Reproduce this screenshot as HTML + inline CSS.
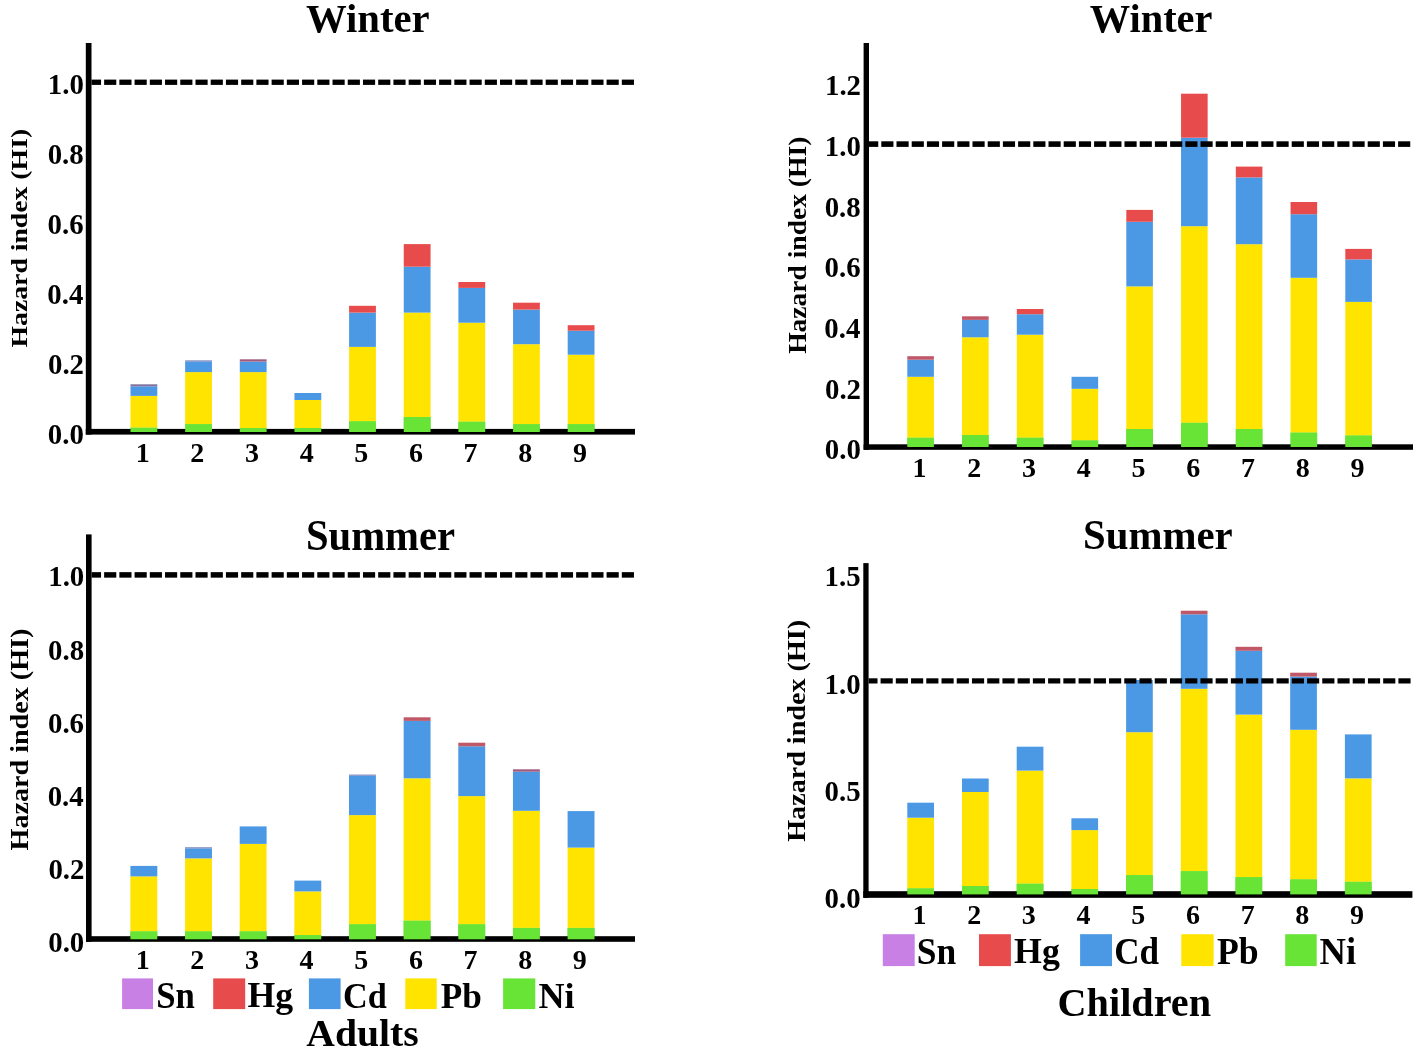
<!DOCTYPE html>
<html><head><meta charset="utf-8"><style>
html,body{margin:0;padding:0;background:#fff;}
svg{display:block;will-change:transform;}
text{font-family:"Liberation Serif", serif;font-weight:bold;fill:#000;}
</style></head><body>
<svg width="1424" height="1053" viewBox="0 0 1424 1053">
<rect width="1424" height="1053" fill="#fff"/>
<rect x="130.50" y="427.70" width="26.80" height="4.30" fill="#68E436"/>
<rect x="130.50" y="395.90" width="26.80" height="31.80" fill="#FFE400"/>
<rect x="130.50" y="386.30" width="26.80" height="9.60" fill="#4B98E4"/>
<rect x="130.50" y="384.30" width="26.80" height="2.00" fill="#84709E"/>
<rect x="185.15" y="424.20" width="26.80" height="7.80" fill="#68E436"/>
<rect x="185.15" y="372.10" width="26.80" height="52.10" fill="#FFE400"/>
<rect x="185.15" y="361.60" width="26.80" height="10.50" fill="#4B98E4"/>
<rect x="185.15" y="360.40" width="26.80" height="1.20" fill="#7280B8"/>
<rect x="239.80" y="428.00" width="26.80" height="4.00" fill="#68E436"/>
<rect x="239.80" y="372.10" width="26.80" height="55.90" fill="#FFE400"/>
<rect x="239.80" y="361.60" width="26.80" height="10.50" fill="#4B98E4"/>
<rect x="239.80" y="359.30" width="26.80" height="2.30" fill="#A25C80"/>
<rect x="294.45" y="428.00" width="26.80" height="4.00" fill="#68E436"/>
<rect x="294.45" y="400.00" width="26.80" height="28.00" fill="#FFE400"/>
<rect x="294.45" y="393.00" width="26.80" height="7.00" fill="#4B98E4"/>
<rect x="349.10" y="421.30" width="26.80" height="10.70" fill="#68E436"/>
<rect x="349.10" y="346.90" width="26.80" height="74.40" fill="#FFE400"/>
<rect x="349.10" y="312.60" width="26.80" height="34.30" fill="#4B98E4"/>
<rect x="349.10" y="305.80" width="26.80" height="6.80" fill="#E84B4B"/>
<rect x="403.75" y="417.10" width="26.80" height="14.90" fill="#68E436"/>
<rect x="403.75" y="312.60" width="26.80" height="104.50" fill="#FFE400"/>
<rect x="403.75" y="266.70" width="26.80" height="45.90" fill="#4B98E4"/>
<rect x="403.75" y="244.10" width="26.80" height="22.60" fill="#E84B4B"/>
<rect x="458.40" y="421.70" width="26.80" height="10.30" fill="#68E436"/>
<rect x="458.40" y="322.70" width="26.80" height="99.00" fill="#FFE400"/>
<rect x="458.40" y="287.90" width="26.80" height="34.80" fill="#4B98E4"/>
<rect x="458.40" y="282.00" width="26.80" height="5.90" fill="#E84B4B"/>
<rect x="513.05" y="424.20" width="26.80" height="7.80" fill="#68E436"/>
<rect x="513.05" y="344.20" width="26.80" height="80.00" fill="#FFE400"/>
<rect x="513.05" y="309.60" width="26.80" height="34.60" fill="#4B98E4"/>
<rect x="513.05" y="302.70" width="26.80" height="6.90" fill="#E84B4B"/>
<rect x="567.70" y="424.20" width="26.80" height="7.80" fill="#68E436"/>
<rect x="567.70" y="354.70" width="26.80" height="69.50" fill="#FFE400"/>
<rect x="567.70" y="330.70" width="26.80" height="24.00" fill="#4B98E4"/>
<rect x="567.70" y="325.20" width="26.80" height="5.50" fill="#E84B4B"/>
<rect x="85.80" y="43.00" width="5.70" height="391.60" fill="#000"/>
<rect x="85.80" y="428.90" width="549.20" height="5.70" fill="#000"/>
<rect x="130.50" y="427.70" width="26.80" height="4.30" fill="#68E436"/>
<rect x="185.15" y="424.20" width="26.80" height="7.80" fill="#68E436"/>
<rect x="239.80" y="428.00" width="26.80" height="4.00" fill="#68E436"/>
<rect x="294.45" y="428.00" width="26.80" height="4.00" fill="#68E436"/>
<rect x="349.10" y="421.30" width="26.80" height="10.70" fill="#68E436"/>
<rect x="403.75" y="417.10" width="26.80" height="14.90" fill="#68E436"/>
<rect x="458.40" y="421.70" width="26.80" height="10.30" fill="#68E436"/>
<rect x="513.05" y="424.20" width="26.80" height="7.80" fill="#68E436"/>
<rect x="567.70" y="424.20" width="26.80" height="7.80" fill="#68E436"/>
<rect x="91.50" y="79.60" width="9.55" height="5.30" fill="#000"/>
<rect x="104.13" y="79.60" width="12.15" height="5.30" fill="#000"/>
<rect x="119.35" y="79.60" width="12.15" height="5.30" fill="#000"/>
<rect x="134.58" y="79.60" width="12.15" height="5.30" fill="#000"/>
<rect x="149.80" y="79.60" width="12.15" height="5.30" fill="#000"/>
<rect x="165.03" y="79.60" width="12.15" height="5.30" fill="#000"/>
<rect x="180.26" y="79.60" width="12.15" height="5.30" fill="#000"/>
<rect x="195.48" y="79.60" width="12.15" height="5.30" fill="#000"/>
<rect x="210.71" y="79.60" width="12.15" height="5.30" fill="#000"/>
<rect x="225.93" y="79.60" width="12.15" height="5.30" fill="#000"/>
<rect x="241.16" y="79.60" width="12.15" height="5.30" fill="#000"/>
<rect x="256.39" y="79.60" width="12.15" height="5.30" fill="#000"/>
<rect x="271.61" y="79.60" width="12.15" height="5.30" fill="#000"/>
<rect x="286.84" y="79.60" width="12.15" height="5.30" fill="#000"/>
<rect x="302.06" y="79.60" width="12.15" height="5.30" fill="#000"/>
<rect x="317.29" y="79.60" width="12.15" height="5.30" fill="#000"/>
<rect x="332.52" y="79.60" width="12.15" height="5.30" fill="#000"/>
<rect x="347.74" y="79.60" width="12.15" height="5.30" fill="#000"/>
<rect x="362.97" y="79.60" width="12.15" height="5.30" fill="#000"/>
<rect x="378.19" y="79.60" width="12.15" height="5.30" fill="#000"/>
<rect x="393.42" y="79.60" width="12.15" height="5.30" fill="#000"/>
<rect x="408.65" y="79.60" width="12.15" height="5.30" fill="#000"/>
<rect x="423.87" y="79.60" width="12.15" height="5.30" fill="#000"/>
<rect x="439.10" y="79.60" width="12.15" height="5.30" fill="#000"/>
<rect x="454.32" y="79.60" width="12.15" height="5.30" fill="#000"/>
<rect x="469.55" y="79.60" width="12.15" height="5.30" fill="#000"/>
<rect x="484.78" y="79.60" width="12.15" height="5.30" fill="#000"/>
<rect x="500.00" y="79.60" width="12.15" height="5.30" fill="#000"/>
<rect x="515.23" y="79.60" width="12.15" height="5.30" fill="#000"/>
<rect x="530.45" y="79.60" width="12.15" height="5.30" fill="#000"/>
<rect x="545.68" y="79.60" width="12.15" height="5.30" fill="#000"/>
<rect x="560.91" y="79.60" width="12.15" height="5.30" fill="#000"/>
<rect x="576.13" y="79.60" width="12.15" height="5.30" fill="#000"/>
<rect x="591.36" y="79.60" width="12.15" height="5.30" fill="#000"/>
<rect x="606.58" y="79.60" width="12.15" height="5.30" fill="#000"/>
<rect x="621.81" y="79.60" width="12.15" height="5.30" fill="#000"/>
<text transform="translate(47.85,443.88) scale(1.030,1.040)" font-size="28.00">0.0</text>
<text transform="translate(47.99,373.90) scale(1.030,1.040)" font-size="28.00">0.2</text>
<text transform="translate(47.30,303.92) scale(1.030,1.040)" font-size="28.00">0.4</text>
<text transform="translate(47.59,233.94) scale(1.030,1.040)" font-size="28.00">0.6</text>
<text transform="translate(47.70,163.96) scale(1.030,1.040)" font-size="28.00">0.8</text>
<text transform="translate(47.85,93.98) scale(1.030,1.040)" font-size="28.00">1.0</text>
<text x="142.70" y="462.00" font-size="28" text-anchor="middle">1</text>
<text x="197.35" y="462.00" font-size="28" text-anchor="middle">2</text>
<text x="252.00" y="462.00" font-size="28" text-anchor="middle">3</text>
<text x="306.65" y="462.00" font-size="28" text-anchor="middle">4</text>
<text x="361.30" y="462.00" font-size="28" text-anchor="middle">5</text>
<text x="415.95" y="462.00" font-size="28" text-anchor="middle">6</text>
<text x="470.60" y="462.00" font-size="28" text-anchor="middle">7</text>
<text x="525.25" y="462.00" font-size="28" text-anchor="middle">8</text>
<text x="579.90" y="462.00" font-size="28" text-anchor="middle">9</text>
<rect x="907.30" y="437.70" width="26.60" height="9.30" fill="#68E436"/>
<rect x="907.30" y="376.80" width="26.60" height="60.90" fill="#FFE400"/>
<rect x="907.30" y="359.70" width="26.60" height="17.10" fill="#4B98E4"/>
<rect x="907.30" y="356.20" width="26.60" height="3.50" fill="#C05868"/>
<rect x="962.05" y="435.00" width="26.60" height="12.00" fill="#68E436"/>
<rect x="962.05" y="337.30" width="26.60" height="97.70" fill="#FFE400"/>
<rect x="962.05" y="319.90" width="26.60" height="17.40" fill="#4B98E4"/>
<rect x="962.05" y="316.30" width="26.60" height="3.60" fill="#C05868"/>
<rect x="1016.80" y="437.70" width="26.60" height="9.30" fill="#68E436"/>
<rect x="1016.80" y="334.70" width="26.60" height="103.00" fill="#FFE400"/>
<rect x="1016.80" y="314.20" width="26.60" height="20.50" fill="#4B98E4"/>
<rect x="1016.80" y="309.00" width="26.60" height="5.20" fill="#E84B4B"/>
<rect x="1071.55" y="440.40" width="26.60" height="6.60" fill="#68E436"/>
<rect x="1071.55" y="388.80" width="26.60" height="51.60" fill="#FFE400"/>
<rect x="1071.55" y="376.80" width="26.60" height="12.00" fill="#4B98E4"/>
<rect x="1126.30" y="429.00" width="26.60" height="18.00" fill="#68E436"/>
<rect x="1126.30" y="286.40" width="26.60" height="142.60" fill="#FFE400"/>
<rect x="1126.30" y="221.80" width="26.60" height="64.60" fill="#4B98E4"/>
<rect x="1126.30" y="209.90" width="26.60" height="11.90" fill="#E84B4B"/>
<rect x="1181.05" y="422.80" width="26.60" height="24.20" fill="#68E436"/>
<rect x="1181.05" y="226.20" width="26.60" height="196.60" fill="#FFE400"/>
<rect x="1181.05" y="137.70" width="26.60" height="88.50" fill="#4B98E4"/>
<rect x="1181.05" y="93.70" width="26.60" height="44.00" fill="#E84B4B"/>
<rect x="1235.80" y="429.00" width="26.60" height="18.00" fill="#68E436"/>
<rect x="1235.80" y="244.20" width="26.60" height="184.80" fill="#FFE400"/>
<rect x="1235.80" y="177.40" width="26.60" height="66.80" fill="#4B98E4"/>
<rect x="1235.80" y="166.60" width="26.60" height="10.80" fill="#E84B4B"/>
<rect x="1290.55" y="432.60" width="26.60" height="14.40" fill="#68E436"/>
<rect x="1290.55" y="277.80" width="26.60" height="154.80" fill="#FFE400"/>
<rect x="1290.55" y="214.20" width="26.60" height="63.60" fill="#4B98E4"/>
<rect x="1290.55" y="202.00" width="26.60" height="12.20" fill="#E84B4B"/>
<rect x="1345.30" y="435.50" width="26.60" height="11.50" fill="#68E436"/>
<rect x="1345.30" y="301.90" width="26.60" height="133.60" fill="#FFE400"/>
<rect x="1345.30" y="259.40" width="26.60" height="42.50" fill="#4B98E4"/>
<rect x="1345.30" y="248.90" width="26.60" height="10.50" fill="#E84B4B"/>
<rect x="863.60" y="43.00" width="5.40" height="406.80" fill="#000"/>
<rect x="863.60" y="444.30" width="549.40" height="5.50" fill="#000"/>
<rect x="907.30" y="437.70" width="26.60" height="9.30" fill="#68E436"/>
<rect x="962.05" y="435.00" width="26.60" height="12.00" fill="#68E436"/>
<rect x="1016.80" y="437.70" width="26.60" height="9.30" fill="#68E436"/>
<rect x="1071.55" y="440.40" width="26.60" height="6.60" fill="#68E436"/>
<rect x="1126.30" y="429.00" width="26.60" height="18.00" fill="#68E436"/>
<rect x="1181.05" y="422.80" width="26.60" height="24.20" fill="#68E436"/>
<rect x="1235.80" y="429.00" width="26.60" height="18.00" fill="#68E436"/>
<rect x="1290.55" y="432.60" width="26.60" height="14.40" fill="#68E436"/>
<rect x="1345.30" y="435.50" width="26.60" height="11.50" fill="#68E436"/>
<rect x="869.00" y="141.30" width="9.25" height="5.60" fill="#000"/>
<rect x="881.30" y="141.30" width="12.15" height="5.60" fill="#000"/>
<rect x="896.50" y="141.30" width="12.15" height="5.60" fill="#000"/>
<rect x="911.70" y="141.30" width="12.15" height="5.60" fill="#000"/>
<rect x="926.90" y="141.30" width="12.15" height="5.60" fill="#000"/>
<rect x="942.10" y="141.30" width="12.15" height="5.60" fill="#000"/>
<rect x="957.30" y="141.30" width="12.15" height="5.60" fill="#000"/>
<rect x="972.50" y="141.30" width="12.15" height="5.60" fill="#000"/>
<rect x="987.70" y="141.30" width="12.15" height="5.60" fill="#000"/>
<rect x="1002.90" y="141.30" width="12.15" height="5.60" fill="#000"/>
<rect x="1018.10" y="141.30" width="12.15" height="5.60" fill="#000"/>
<rect x="1033.30" y="141.30" width="12.15" height="5.60" fill="#000"/>
<rect x="1048.50" y="141.30" width="12.15" height="5.60" fill="#000"/>
<rect x="1063.70" y="141.30" width="12.15" height="5.60" fill="#000"/>
<rect x="1078.90" y="141.30" width="12.15" height="5.60" fill="#000"/>
<rect x="1094.10" y="141.30" width="12.15" height="5.60" fill="#000"/>
<rect x="1109.30" y="141.30" width="12.15" height="5.60" fill="#000"/>
<rect x="1124.50" y="141.30" width="12.15" height="5.60" fill="#000"/>
<rect x="1139.70" y="141.30" width="12.15" height="5.60" fill="#000"/>
<rect x="1154.90" y="141.30" width="12.15" height="5.60" fill="#000"/>
<rect x="1170.10" y="141.30" width="12.15" height="5.60" fill="#000"/>
<rect x="1185.30" y="141.30" width="12.15" height="5.60" fill="#000"/>
<rect x="1200.50" y="141.30" width="12.15" height="5.60" fill="#000"/>
<rect x="1215.70" y="141.30" width="12.15" height="5.60" fill="#000"/>
<rect x="1230.90" y="141.30" width="12.15" height="5.60" fill="#000"/>
<rect x="1246.10" y="141.30" width="12.15" height="5.60" fill="#000"/>
<rect x="1261.30" y="141.30" width="12.15" height="5.60" fill="#000"/>
<rect x="1276.50" y="141.30" width="12.15" height="5.60" fill="#000"/>
<rect x="1291.70" y="141.30" width="12.15" height="5.60" fill="#000"/>
<rect x="1306.90" y="141.30" width="12.15" height="5.60" fill="#000"/>
<rect x="1322.10" y="141.30" width="12.15" height="5.60" fill="#000"/>
<rect x="1337.30" y="141.30" width="12.15" height="5.60" fill="#000"/>
<rect x="1352.50" y="141.30" width="12.15" height="5.60" fill="#000"/>
<rect x="1367.70" y="141.30" width="12.15" height="5.60" fill="#000"/>
<rect x="1382.90" y="141.30" width="12.15" height="5.60" fill="#000"/>
<rect x="1398.10" y="141.30" width="12.15" height="5.60" fill="#000"/>
<text transform="translate(824.85,459.28) scale(1.030,1.040)" font-size="28.00">0.0</text>
<text transform="translate(824.99,398.65) scale(1.030,1.040)" font-size="28.00">0.2</text>
<text transform="translate(824.30,338.01) scale(1.030,1.040)" font-size="28.00">0.4</text>
<text transform="translate(824.59,277.38) scale(1.030,1.040)" font-size="28.00">0.6</text>
<text transform="translate(824.70,216.75) scale(1.030,1.040)" font-size="28.00">0.8</text>
<text transform="translate(824.85,156.11) scale(1.030,1.040)" font-size="28.00">1.0</text>
<text transform="translate(824.99,95.43) scale(1.030,1.040)" font-size="28.00">1.2</text>
<text x="919.40" y="477.40" font-size="28" text-anchor="middle">1</text>
<text x="974.15" y="477.40" font-size="28" text-anchor="middle">2</text>
<text x="1028.90" y="477.40" font-size="28" text-anchor="middle">3</text>
<text x="1083.65" y="477.40" font-size="28" text-anchor="middle">4</text>
<text x="1138.40" y="477.40" font-size="28" text-anchor="middle">5</text>
<text x="1193.15" y="477.40" font-size="28" text-anchor="middle">6</text>
<text x="1247.90" y="477.40" font-size="28" text-anchor="middle">7</text>
<text x="1302.65" y="477.40" font-size="28" text-anchor="middle">8</text>
<text x="1357.40" y="477.40" font-size="28" text-anchor="middle">9</text>
<rect x="130.40" y="931.40" width="26.90" height="7.90" fill="#68E436"/>
<rect x="130.40" y="876.40" width="26.90" height="55.00" fill="#FFE400"/>
<rect x="130.40" y="865.90" width="26.90" height="10.50" fill="#4B98E4"/>
<rect x="185.05" y="931.40" width="26.90" height="7.90" fill="#68E436"/>
<rect x="185.05" y="858.40" width="26.90" height="73.00" fill="#FFE400"/>
<rect x="185.05" y="848.40" width="26.90" height="10.00" fill="#4B98E4"/>
<rect x="185.05" y="847.30" width="26.90" height="1.10" fill="#7280B8"/>
<rect x="239.70" y="931.40" width="26.90" height="7.90" fill="#68E436"/>
<rect x="239.70" y="843.90" width="26.90" height="87.50" fill="#FFE400"/>
<rect x="239.70" y="826.40" width="26.90" height="17.50" fill="#4B98E4"/>
<rect x="294.35" y="935.10" width="26.90" height="4.20" fill="#68E436"/>
<rect x="294.35" y="891.40" width="26.90" height="43.70" fill="#FFE400"/>
<rect x="294.35" y="880.60" width="26.90" height="10.80" fill="#4B98E4"/>
<rect x="349.00" y="924.30" width="26.90" height="15.00" fill="#68E436"/>
<rect x="349.00" y="815.10" width="26.90" height="109.20" fill="#FFE400"/>
<rect x="349.00" y="775.70" width="26.90" height="39.40" fill="#4B98E4"/>
<rect x="349.00" y="774.60" width="26.90" height="1.10" fill="#7280B8"/>
<rect x="403.65" y="920.70" width="26.90" height="18.60" fill="#68E436"/>
<rect x="403.65" y="778.30" width="26.90" height="142.40" fill="#FFE400"/>
<rect x="403.65" y="720.90" width="26.90" height="57.40" fill="#4B98E4"/>
<rect x="403.65" y="717.30" width="26.90" height="3.60" fill="#C05868"/>
<rect x="458.30" y="924.30" width="26.90" height="15.00" fill="#68E436"/>
<rect x="458.30" y="796.10" width="26.90" height="128.20" fill="#FFE400"/>
<rect x="458.30" y="746.30" width="26.90" height="49.80" fill="#4B98E4"/>
<rect x="458.30" y="742.70" width="26.90" height="3.60" fill="#C05868"/>
<rect x="512.95" y="927.90" width="26.90" height="11.40" fill="#68E436"/>
<rect x="512.95" y="810.80" width="26.90" height="117.10" fill="#FFE400"/>
<rect x="512.95" y="771.70" width="26.90" height="39.10" fill="#4B98E4"/>
<rect x="512.95" y="769.30" width="26.90" height="2.40" fill="#A25C80"/>
<rect x="567.60" y="927.90" width="26.90" height="11.40" fill="#68E436"/>
<rect x="567.60" y="847.60" width="26.90" height="80.30" fill="#FFE400"/>
<rect x="567.60" y="811.10" width="26.90" height="36.50" fill="#4B98E4"/>
<rect x="86.00" y="534.40" width="5.60" height="407.40" fill="#000"/>
<rect x="86.00" y="936.20" width="549.00" height="5.60" fill="#000"/>
<rect x="130.40" y="931.40" width="26.90" height="7.90" fill="#68E436"/>
<rect x="185.05" y="931.40" width="26.90" height="7.90" fill="#68E436"/>
<rect x="239.70" y="931.40" width="26.90" height="7.90" fill="#68E436"/>
<rect x="294.35" y="935.10" width="26.90" height="4.20" fill="#68E436"/>
<rect x="349.00" y="924.30" width="26.90" height="15.00" fill="#68E436"/>
<rect x="403.65" y="920.70" width="26.90" height="18.60" fill="#68E436"/>
<rect x="458.30" y="924.30" width="26.90" height="15.00" fill="#68E436"/>
<rect x="512.95" y="927.90" width="26.90" height="11.40" fill="#68E436"/>
<rect x="567.60" y="927.90" width="26.90" height="11.40" fill="#68E436"/>
<rect x="91.60" y="572.15" width="9.45" height="5.50" fill="#000"/>
<rect x="104.13" y="572.15" width="12.15" height="5.50" fill="#000"/>
<rect x="119.35" y="572.15" width="12.15" height="5.50" fill="#000"/>
<rect x="134.58" y="572.15" width="12.15" height="5.50" fill="#000"/>
<rect x="149.80" y="572.15" width="12.15" height="5.50" fill="#000"/>
<rect x="165.03" y="572.15" width="12.15" height="5.50" fill="#000"/>
<rect x="180.26" y="572.15" width="12.15" height="5.50" fill="#000"/>
<rect x="195.48" y="572.15" width="12.15" height="5.50" fill="#000"/>
<rect x="210.71" y="572.15" width="12.15" height="5.50" fill="#000"/>
<rect x="225.93" y="572.15" width="12.15" height="5.50" fill="#000"/>
<rect x="241.16" y="572.15" width="12.15" height="5.50" fill="#000"/>
<rect x="256.39" y="572.15" width="12.15" height="5.50" fill="#000"/>
<rect x="271.61" y="572.15" width="12.15" height="5.50" fill="#000"/>
<rect x="286.84" y="572.15" width="12.15" height="5.50" fill="#000"/>
<rect x="302.06" y="572.15" width="12.15" height="5.50" fill="#000"/>
<rect x="317.29" y="572.15" width="12.15" height="5.50" fill="#000"/>
<rect x="332.52" y="572.15" width="12.15" height="5.50" fill="#000"/>
<rect x="347.74" y="572.15" width="12.15" height="5.50" fill="#000"/>
<rect x="362.97" y="572.15" width="12.15" height="5.50" fill="#000"/>
<rect x="378.19" y="572.15" width="12.15" height="5.50" fill="#000"/>
<rect x="393.42" y="572.15" width="12.15" height="5.50" fill="#000"/>
<rect x="408.65" y="572.15" width="12.15" height="5.50" fill="#000"/>
<rect x="423.87" y="572.15" width="12.15" height="5.50" fill="#000"/>
<rect x="439.10" y="572.15" width="12.15" height="5.50" fill="#000"/>
<rect x="454.32" y="572.15" width="12.15" height="5.50" fill="#000"/>
<rect x="469.55" y="572.15" width="12.15" height="5.50" fill="#000"/>
<rect x="484.78" y="572.15" width="12.15" height="5.50" fill="#000"/>
<rect x="500.00" y="572.15" width="12.15" height="5.50" fill="#000"/>
<rect x="515.23" y="572.15" width="12.15" height="5.50" fill="#000"/>
<rect x="530.45" y="572.15" width="12.15" height="5.50" fill="#000"/>
<rect x="545.68" y="572.15" width="12.15" height="5.50" fill="#000"/>
<rect x="560.91" y="572.15" width="12.15" height="5.50" fill="#000"/>
<rect x="576.13" y="572.15" width="12.15" height="5.50" fill="#000"/>
<rect x="591.36" y="572.15" width="12.15" height="5.50" fill="#000"/>
<rect x="606.58" y="572.15" width="12.15" height="5.50" fill="#000"/>
<rect x="621.81" y="572.15" width="12.15" height="5.50" fill="#000"/>
<text transform="translate(48.25,951.58) scale(1.030,1.040)" font-size="28.00">0.0</text>
<text transform="translate(48.39,878.56) scale(1.030,1.040)" font-size="28.00">0.2</text>
<text transform="translate(47.70,805.54) scale(1.030,1.040)" font-size="28.00">0.4</text>
<text transform="translate(47.99,732.52) scale(1.030,1.040)" font-size="28.00">0.6</text>
<text transform="translate(48.10,659.50) scale(1.030,1.040)" font-size="28.00">0.8</text>
<text transform="translate(48.25,586.48) scale(1.030,1.040)" font-size="28.00">1.0</text>
<text x="142.65" y="969.00" font-size="28" text-anchor="middle">1</text>
<text x="197.30" y="969.00" font-size="28" text-anchor="middle">2</text>
<text x="251.95" y="969.00" font-size="28" text-anchor="middle">3</text>
<text x="306.60" y="969.00" font-size="28" text-anchor="middle">4</text>
<text x="361.25" y="969.00" font-size="28" text-anchor="middle">5</text>
<text x="415.90" y="969.00" font-size="28" text-anchor="middle">6</text>
<text x="470.55" y="969.00" font-size="28" text-anchor="middle">7</text>
<text x="525.20" y="969.00" font-size="28" text-anchor="middle">8</text>
<text x="579.85" y="969.00" font-size="28" text-anchor="middle">9</text>
<rect x="907.30" y="888.40" width="26.70" height="6.00" fill="#68E436"/>
<rect x="907.30" y="817.70" width="26.70" height="70.70" fill="#FFE400"/>
<rect x="907.30" y="802.70" width="26.70" height="15.00" fill="#4B98E4"/>
<rect x="962.00" y="886.00" width="26.70" height="8.40" fill="#68E436"/>
<rect x="962.00" y="792.00" width="26.70" height="94.00" fill="#FFE400"/>
<rect x="962.00" y="778.50" width="26.70" height="13.50" fill="#4B98E4"/>
<rect x="1016.70" y="883.70" width="26.70" height="10.70" fill="#68E436"/>
<rect x="1016.70" y="770.60" width="26.70" height="113.10" fill="#FFE400"/>
<rect x="1016.70" y="746.70" width="26.70" height="23.90" fill="#4B98E4"/>
<rect x="1071.40" y="889.00" width="26.70" height="5.40" fill="#68E436"/>
<rect x="1071.40" y="830.10" width="26.70" height="58.90" fill="#FFE400"/>
<rect x="1071.40" y="818.30" width="26.70" height="11.80" fill="#4B98E4"/>
<rect x="1126.10" y="875.10" width="26.70" height="19.30" fill="#68E436"/>
<rect x="1126.10" y="732.20" width="26.70" height="142.90" fill="#FFE400"/>
<rect x="1126.10" y="680.00" width="26.70" height="52.20" fill="#4B98E4"/>
<rect x="1180.80" y="871.20" width="26.70" height="23.20" fill="#68E436"/>
<rect x="1180.80" y="688.80" width="26.70" height="182.40" fill="#FFE400"/>
<rect x="1180.80" y="614.30" width="26.70" height="74.50" fill="#4B98E4"/>
<rect x="1180.80" y="610.70" width="26.70" height="3.60" fill="#C05868"/>
<rect x="1235.50" y="877.20" width="26.70" height="17.20" fill="#68E436"/>
<rect x="1235.50" y="714.60" width="26.70" height="162.60" fill="#FFE400"/>
<rect x="1235.50" y="650.80" width="26.70" height="63.80" fill="#4B98E4"/>
<rect x="1235.50" y="646.80" width="26.70" height="4.00" fill="#C05868"/>
<rect x="1290.20" y="879.40" width="26.70" height="15.00" fill="#68E436"/>
<rect x="1290.20" y="729.80" width="26.70" height="149.60" fill="#FFE400"/>
<rect x="1290.20" y="676.60" width="26.70" height="53.20" fill="#4B98E4"/>
<rect x="1290.20" y="672.70" width="26.70" height="3.90" fill="#C05868"/>
<rect x="1344.90" y="881.80" width="26.70" height="12.60" fill="#68E436"/>
<rect x="1344.90" y="778.40" width="26.70" height="103.40" fill="#FFE400"/>
<rect x="1344.90" y="734.40" width="26.70" height="44.00" fill="#4B98E4"/>
<rect x="863.30" y="563.10" width="5.30" height="334.70" fill="#000"/>
<rect x="863.30" y="891.20" width="549.10" height="6.60" fill="#000"/>
<rect x="907.30" y="888.40" width="26.70" height="6.00" fill="#68E436"/>
<rect x="962.00" y="886.00" width="26.70" height="8.40" fill="#68E436"/>
<rect x="1016.70" y="883.70" width="26.70" height="10.70" fill="#68E436"/>
<rect x="1071.40" y="889.00" width="26.70" height="5.40" fill="#68E436"/>
<rect x="1126.10" y="875.10" width="26.70" height="19.30" fill="#68E436"/>
<rect x="1180.80" y="871.20" width="26.70" height="23.20" fill="#68E436"/>
<rect x="1235.50" y="877.20" width="26.70" height="17.20" fill="#68E436"/>
<rect x="1290.20" y="879.40" width="26.70" height="15.00" fill="#68E436"/>
<rect x="1344.90" y="881.80" width="26.70" height="12.60" fill="#68E436"/>
<rect x="868.60" y="678.30" width="8.90" height="5.20" fill="#000"/>
<rect x="880.58" y="678.30" width="12.15" height="5.20" fill="#000"/>
<rect x="895.81" y="678.30" width="12.15" height="5.20" fill="#000"/>
<rect x="911.04" y="678.30" width="12.15" height="5.20" fill="#000"/>
<rect x="926.27" y="678.30" width="12.15" height="5.20" fill="#000"/>
<rect x="941.50" y="678.30" width="12.15" height="5.20" fill="#000"/>
<rect x="956.73" y="678.30" width="12.15" height="5.20" fill="#000"/>
<rect x="971.96" y="678.30" width="12.15" height="5.20" fill="#000"/>
<rect x="987.19" y="678.30" width="12.15" height="5.20" fill="#000"/>
<rect x="1002.42" y="678.30" width="12.15" height="5.20" fill="#000"/>
<rect x="1017.65" y="678.30" width="12.15" height="5.20" fill="#000"/>
<rect x="1032.88" y="678.30" width="12.15" height="5.20" fill="#000"/>
<rect x="1048.11" y="678.30" width="12.15" height="5.20" fill="#000"/>
<rect x="1063.34" y="678.30" width="12.15" height="5.20" fill="#000"/>
<rect x="1078.57" y="678.30" width="12.15" height="5.20" fill="#000"/>
<rect x="1093.80" y="678.30" width="12.15" height="5.20" fill="#000"/>
<rect x="1109.03" y="678.30" width="12.15" height="5.20" fill="#000"/>
<rect x="1124.26" y="678.30" width="12.15" height="5.20" fill="#000"/>
<rect x="1139.49" y="678.30" width="12.15" height="5.20" fill="#000"/>
<rect x="1154.72" y="678.30" width="12.15" height="5.20" fill="#000"/>
<rect x="1169.95" y="678.30" width="12.15" height="5.20" fill="#000"/>
<rect x="1185.18" y="678.30" width="12.15" height="5.20" fill="#000"/>
<rect x="1200.41" y="678.30" width="12.15" height="5.20" fill="#000"/>
<rect x="1215.64" y="678.30" width="12.15" height="5.20" fill="#000"/>
<rect x="1230.87" y="678.30" width="12.15" height="5.20" fill="#000"/>
<rect x="1246.10" y="678.30" width="12.15" height="5.20" fill="#000"/>
<rect x="1261.33" y="678.30" width="12.15" height="5.20" fill="#000"/>
<rect x="1276.56" y="678.30" width="12.15" height="5.20" fill="#000"/>
<rect x="1291.79" y="678.30" width="12.15" height="5.20" fill="#000"/>
<rect x="1307.02" y="678.30" width="12.15" height="5.20" fill="#000"/>
<rect x="1322.25" y="678.30" width="12.15" height="5.20" fill="#000"/>
<rect x="1337.48" y="678.30" width="12.15" height="5.20" fill="#000"/>
<rect x="1352.71" y="678.30" width="12.15" height="5.20" fill="#000"/>
<rect x="1367.94" y="678.30" width="12.15" height="5.20" fill="#000"/>
<rect x="1383.17" y="678.30" width="12.15" height="5.20" fill="#000"/>
<rect x="1398.40" y="678.30" width="12.15" height="5.20" fill="#000"/>
<text transform="translate(824.55,907.68) scale(1.030,1.040)" font-size="28.00">0.0</text>
<text transform="translate(824.52,800.61) scale(1.030,1.040)" font-size="28.00">0.5</text>
<text transform="translate(824.55,693.55) scale(1.030,1.040)" font-size="28.00">1.0</text>
<text transform="translate(824.52,586.41) scale(1.030,1.040)" font-size="28.00">1.5</text>
<text x="919.45" y="924.30" font-size="28" text-anchor="middle">1</text>
<text x="974.15" y="924.30" font-size="28" text-anchor="middle">2</text>
<text x="1028.85" y="924.30" font-size="28" text-anchor="middle">3</text>
<text x="1083.55" y="924.30" font-size="28" text-anchor="middle">4</text>
<text x="1138.25" y="924.30" font-size="28" text-anchor="middle">5</text>
<text x="1192.95" y="924.30" font-size="28" text-anchor="middle">6</text>
<text x="1247.65" y="924.30" font-size="28" text-anchor="middle">7</text>
<text x="1302.35" y="924.30" font-size="28" text-anchor="middle">8</text>
<text x="1357.05" y="924.30" font-size="28" text-anchor="middle">9</text>
<text transform="translate(306.03,32.09) scale(1.0059,1)" font-size="40.48">Winter</text>
<text transform="translate(1089.83,32.09) scale(0.9977,1)" font-size="40.48">Winter</text>
<text transform="translate(305.94,550.48) scale(0.9397,1)" font-size="43.32">Summer</text>
<text transform="translate(1083.04,549.29) scale(0.9689,1)" font-size="42.14">Summer</text>
<text transform="translate(27.38,347.47) rotate(-90) scale(1.0267,0.8902)" font-size="27.00">Hazard index (HI)</text>
<text transform="translate(805.52,353.87) rotate(-90) scale(1.0201,0.9188)" font-size="27.00">Hazard index (HI)</text>
<text transform="translate(27.69,850.48) rotate(-90) scale(1.0423,0.9229)" font-size="27.00">Hazard index (HI)</text>
<text transform="translate(805.38,841.78) rotate(-90) scale(1.0423,0.9596)" font-size="27.00">Hazard index (HI)</text>
<rect x="122.10" y="978.40" width="30.90" height="30.70" fill="#C880E4"/>
<text transform="translate(156.16,1008.03) scale(0.9384,1)" font-size="37.05">Sn</text>
<rect x="213.20" y="978.40" width="32.00" height="30.70" fill="#E84B4B"/>
<text transform="translate(247.59,1006.83) scale(1.0032,1)" font-size="35.62">Hg</text>
<rect x="308.90" y="978.40" width="31.70" height="30.70" fill="#4B98E4"/>
<text transform="translate(342.92,1008.03) scale(0.9306,1)" font-size="36.79">Cd</text>
<rect x="405.30" y="978.40" width="31.40" height="30.70" fill="#FFE400"/>
<text transform="translate(440.70,1008.03) scale(0.9575,1)" font-size="36.79">Pb</text>
<rect x="503.10" y="978.40" width="32.20" height="30.70" fill="#68E436"/>
<text transform="translate(538.41,1008.00) scale(0.9833,1)" font-size="36.74">Ni</text>
<rect x="882.80" y="934.20" width="31.90" height="31.90" fill="#C880E4"/>
<text transform="translate(916.72,963.53) scale(0.9488,1)" font-size="37.35">Sn</text>
<rect x="979.00" y="934.20" width="31.90" height="31.90" fill="#E84B4B"/>
<text transform="translate(1014.09,962.50) scale(0.9896,1)" font-size="36.19">Hg</text>
<rect x="1080.10" y="934.20" width="31.90" height="31.90" fill="#4B98E4"/>
<text transform="translate(1114.18,963.53) scale(0.9478,1)" font-size="37.07">Cd</text>
<rect x="1181.30" y="934.20" width="32.30" height="31.90" fill="#FFE400"/>
<text transform="translate(1216.89,963.53) scale(0.9647,1)" font-size="37.07">Pb</text>
<rect x="1285.20" y="934.20" width="31.50" height="31.90" fill="#68E436"/>
<text transform="translate(1319.50,963.50) scale(0.9896,1)" font-size="37.03">Ni</text>
<text transform="translate(306.30,1045.75) scale(1.0531,1)" font-size="37.68">Adults</text>
<text transform="translate(1057.53,1016.30) scale(1.0119,1)" font-size="39.77">Children</text>
</svg>
</body></html>
